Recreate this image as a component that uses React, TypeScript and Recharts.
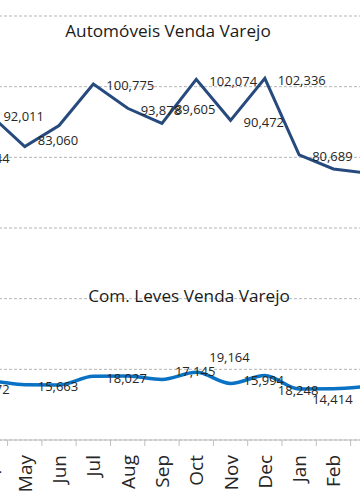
import { LineChart, Line, XAxis, YAxis, CartesianGrid, LabelList } from 'recharts';

const months = ['Mar', 'Apr', 'May', 'Jun', 'Jul', 'Aug', 'Sep', 'Oct', 'Nov', 'Dec', 'Jan', 'Feb', 'Mar'];
const automoveis = [80344, 92011, 83060, 89000, 100775, 93878, 89605, 102074, 90472, 102336, 80689, 76700, 75500];
const comLeves = [14872, 16600, 15663, 15600, 18027, 18100, 17145, 19164, 15994, 18248, 14414, 14500, 15200];
const yTicks = [0, 20000, 40000, 60000, 80000, 100000, 120000];

// which points carry a value label, and how far each label was nudged up/down
const autoLabelled = [0, 1, 2, 4, 5, 6, 7, 8, 9, 10];
const autoNudge = [0, 0, -8, 0, 0, 0, -16, 0, 0, 0, 0, 0, 0];
const leveLabelled = [0, 2, 4, 6, 7, 8, 9, 10];
const leveNudge = [0, 0, 0, 0, 0, 0, -10, -17, -5, 13, 8, 0, 0];

const data = months.map((m, i) => ({ month: m, automoveis: automoveis[i], comLeves: comLeves[i] }));

const BAND = 34.3;
const FONT = '"Open Sans", sans-serif';

function valueLabel(shown: number[], nudge: number[]) {
  return (props: any) => {
    const { x, y, value, index } = props;
    if (!shown.includes(index)) return null;
    return (
      <text x={x + 13} y={y + 1.5 + nudge[index]} dominantBaseline="central" fontSize={13} fontFamily={FONT} fill="#262626">
        {Number(value).toLocaleString('en-US')}
      </text>
    );
  };
}

function MonthTick(props: any) {
  const { x, y, payload } = props;
  return (
    <g>
      <line x1={x - BAND / 2} x2={x - BAND / 2} y1={y} y2={y + 6} stroke="#bfbfbf" />
      <text
        x={x}
        y={y + 15}
        transform={`rotate(-90, ${x}, ${y + 15})`}
        textAnchor="end"
        dominantBaseline="central"
        fontSize={19}
        fontFamily={FONT}
        fill="#262626"
      >
        {payload.value}
      </text>
    </g>
  );
}

export default function App() {
  return (
    <div style={{ position: 'fixed', left: 0, top: 0, width: 360, height: 504, overflow: 'hidden', background: '#fff' }}>
      <div style={{ position: 'absolute', left: -61.3, top: 0 }}>
        <LineChart width={BAND * months.length} height={504} data={data} margin={{ top: 16, right: 0, left: 0, bottom: 0 }}>
          <CartesianGrid vertical={false} stroke="#b4b4b4" strokeDasharray="3 2" />
          <YAxis hide domain={[0, 120000]} ticks={yTicks} />
          <XAxis
            dataKey="month"
            interval={0}
            height={64}
            padding={{ left: BAND / 2, right: BAND / 2 }}
            tickLine={false}
            tickSize={0}
            tickMargin={0}
            axisLine={{ stroke: '#bfbfbf' }}
            tick={<MonthTick />}
          />
          <Line type="linear" dataKey="automoveis" stroke="#264a7e" strokeWidth={3} dot={false} isAnimationActive={false}>
            <LabelList dataKey="automoveis" content={valueLabel(autoLabelled, autoNudge)} />
          </Line>
          <Line type="monotone" dataKey="comLeves" stroke="#0a72c4" strokeWidth={3.5} dot={false} isAnimationActive={false}>
            <LabelList dataKey="comLeves" content={valueLabel(leveLabelled, leveNudge)} />
          </Line>
        </LineChart>
      </div>
      <svg width={360} height={504} style={{ position: 'absolute', left: 0, top: 0, pointerEvents: 'none' }}>
        <text x={168} y={36.5} textAnchor="middle" fontSize={17.2} fontFamily={FONT} fill="#1a1a1a">
          Automóveis Venda Varejo
        </text>
        <text x={189} y={302} textAnchor="middle" fontSize={17.2} fontFamily={FONT} fill="#1a1a1a">
          Com. Leves Venda Varejo
        </text>
      </svg>
    </div>
  );
}
